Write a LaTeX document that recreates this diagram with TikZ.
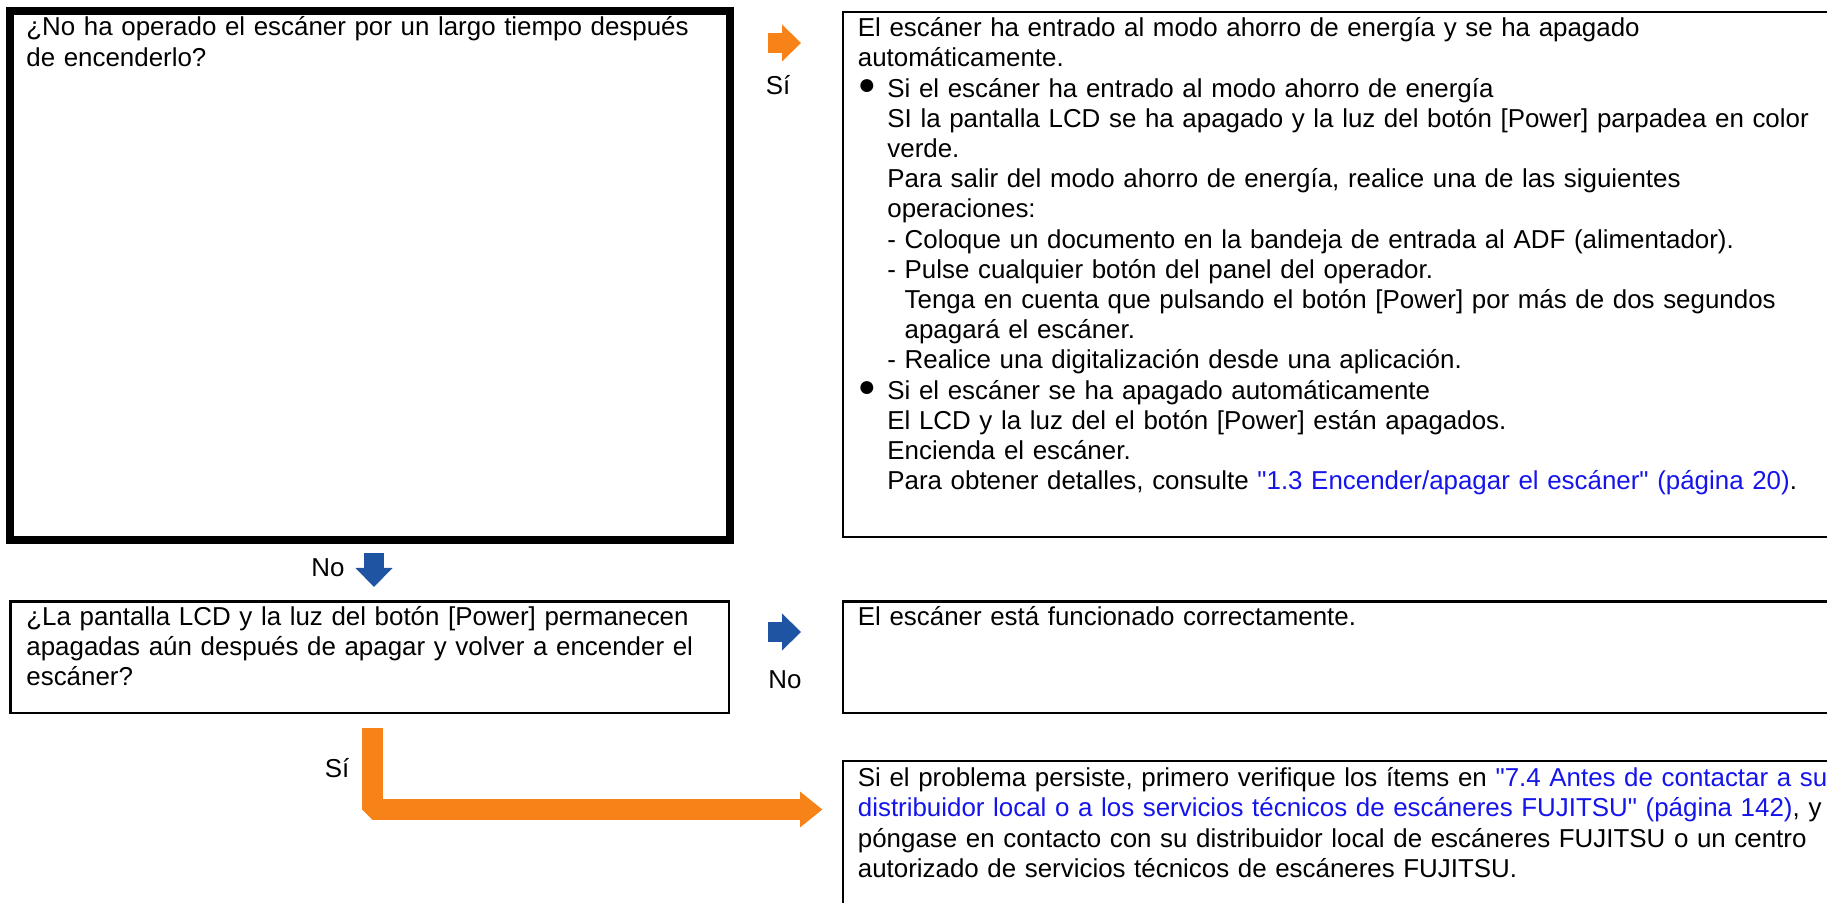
\documentclass[tikz,border=0pt]{standalone}
\usepackage{fontspec}
\setmainfont{Liberation Sans}[Ligatures=TeXOff]
\usepackage{xcolor}
\usetikzlibrary{arrows.meta,calc}

\definecolor{fjorange}{RGB}{247,130,24}
\definecolor{fjblue}{RGB}{30,84,162}
\definecolor{linkblue}{RGB}{20,20,235}

\newcommand{\lnk}[1]{\textcolor{linkblue}{#1}}
\newcommand{\bul}{\makebox[14.75pt][l]{\smash{\raisebox{1.3pt}{\fontsize{15}{15}\selectfont ●}}}}
\newcommand{\ind}{\hspace*{14.75pt}}

\begin{document}
\begin{tikzpicture}[x=0.5pt, y=-0.5pt,
    every node/.style={font=\fontsize{12.95}{15.1}\selectfont},
    box/.style={draw, line width=1.15pt, inner sep=0pt, outer sep=0pt, anchor=north west},
    txt/.style={inner sep=0pt, anchor=base west, text width=530pt, align=left},
    blockarrow/.style={line width=10pt, -{Triangle[length=9.5pt, width=18.5pt, line width=0pt]}}]
    \useasboundingbox (0,0) rectangle (1827,903);
    \clip (0,0) rectangle (1827,903);

    % Question 1
    \node[box, line width=4pt, minimum width=360pt, minimum height=264.75pt] (qone) at (10,11) {};
    \node[txt] (qonetxt) at ($(qone.north west)+(16,25)$) {¿No ha operado el escáner por un largo tiempo después\\
        de encenderlo?};

    % Answer 1
    \node[box, minimum width=505pt, minimum height=262.5pt] (rone) at (843,11.7) {};
    \node[txt] (ronetxt) at ($(rone.north west)+(14.5,25)$) {El escáner ha entrado al modo ahorro de energía y se ha apagado\\
        automáticamente.\\
        \bul Si el escáner ha entrado al modo ahorro de energía\\
        \ind SI la pantalla LCD se ha apagado y la luz del botón [Power] parpadea en color\\
        \ind verde.\\
        \ind Para salir del modo ahorro de energía, realice una de las siguientes\\
        \ind operaciones:\\
        \ind - Coloque un documento en la bandeja de entrada al ADF (alimentador).\\
        \ind - Pulse cualquier botón del panel del operador.\\
        \ind\hphantom{- }Tenga en cuenta que pulsando el botón [Power] por más de dos segundos\\
        \ind\hphantom{- }apagará el escáner.\\
        \ind - Realice una digitalización desde una aplicación.\\
        \bul Si el escáner se ha apagado automáticamente\\
        \ind El LCD y la luz del el botón [Power] están apagados.\\
        \ind Encienda el escáner.\\
        \ind Para obtener detalles, consulte \lnk{"1.3 Encender/apagar el escáner" (página 20)}.};

    % Question 2
    \node[box, minimum width=359.25pt, minimum height=55.65pt] (qtwo) at (10.5,601.5) {};
    \node[txt] (qtwotxt) at ($(qtwo.north west)+(15.5,23.5)$) {¿La pantalla LCD y la luz del botón [Power] permanecen\\
        apagadas aún después de apagar y volver a encender el\\
        escáner?};

    % Answer 2
    \node[box, minimum width=505pt, minimum height=55.65pt] (rtwo) at (843,601.5) {};
    \node[txt] (rtwotxt) at ($(rtwo.north west)+(14.5,24)$) {El escáner está funcionado correctamente.};

    % Answer 3
    \node[box, minimum width=505pt, minimum height=100pt] (rthree) at (843,760.7) {};
    \node[txt] (rthreetxt) at ($(rthree.north west)+(14.5,26)$) {Si el problema persiste, primero verifique los ítems en \lnk{"7.4 Antes de contactar a su}\\
        \lnk{distribuidor local o a los servicios técnicos de escáneres FUJITSU" (página 142)}, y\\
        póngase en contacto con su distribuidor local de escáneres FUJITSU o un centro\\
        autorizado de servicios técnicos de escáneres FUJITSU.};

    % Arrows
    \coordinate (yesone) at ($(qone.north east)+(0,32)$);
    \draw[blockarrow, fjorange, shorten <=19pt, shorten >=21pt] (yesone) -- (yesone -| rone.west);
    \node[anchor=base] (yesonelbl) at (778,95) {Sí};

    \coordinate (noone) at ($(qone.south west)+(364,0)$);
    \draw[blockarrow, fjblue, shorten <=6.25pt, shorten >=7.25pt] (noone) -- (noone |- qtwo.north);
    \node[anchor=base] (noonelbl) at (328,577) {No};

    \coordinate (notwo) at ($(qtwo.north east)+(0,30.5)$);
    \draw[blockarrow, fjblue, shorten <=19.5pt, shorten >=21pt] (notwo) -- (notwo -| rtwo.west);
    \node[anchor=base] (notwolbl) at (785,688) {No};

    \coordinate (yestwo) at ($(qtwo.south west)+(361.7,0)$);
    \coordinate (yesend) at ($(rthree.north west)+(0,48.8)$);
    \draw[fjorange, line width=10.5pt, line join=bevel,
        -{Triangle[length=11.15pt, width=18pt, line width=0pt]},
        shorten <=7.45pt, shorten >=10.35pt] (yestwo) |- (yesend);
    \node[anchor=base] (yestwolbl) at (337,777) {Sí};
\end{tikzpicture}
\end{document}
